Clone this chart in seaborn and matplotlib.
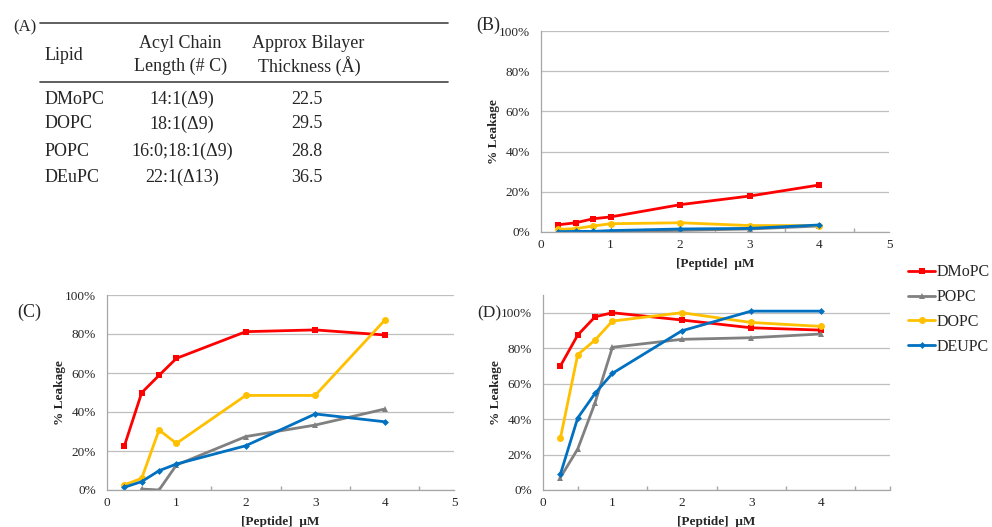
import numpy as np
import pandas as pd
import matplotlib
matplotlib.use("Agg")
import matplotlib.pyplot as plt
import seaborn as sns
from matplotlib.ticker import FuncFormatter, MultipleLocator

# ---------------- data ----------------
conc = [0.25, 0.5, 0.75, 1, 2, 3, 4]
lipids = ["DMoPC", "POPC", "DOPC", "DEUPC"]

# Panel B
b_dmopc = [3.6, 4.6, 6.6, 7.5, 13.6, 17.9, 23.4]
b_popc = [None, 0.0, 0.0, 0.2, 0.8, 1.5, 3.0]
b_dopc = [1.3, 1.7, 3.0, 4.1, 4.6, 3.2, 3.2]
b_deupc = [0.2, 0.3, 0.3, 0.7, 1.5, 1.8, 3.5]

# Panel C
c_dmopc = [22.6, 49.9, 58.8, 67.5, 81.2, 82.1, 79.5]
c_popc = [None, 0.5, 0.0, 12.8, 27.4, 33.3, 41.5]
c_dopc = [2.6, 6.0, 30.8, 23.9, 48.5, 48.5, 87.0]
c_deupc = [1.4, 4.3, 9.9, 13.3, 22.7, 39.0, 35.0]

# Panel D
d_dmopc = [69.9, 87.4, 97.7, 100.0, 95.9, 91.5, 90.2]
d_popc = [7.0, 23.1, 49.2, 80.5, 85.0, 85.9, 88.0]
d_dopc = [29.1, 76.3, 84.6, 95.3, 100.0, 94.5, 92.3]
d_deupc = [8.8, 40.6, 54.5, 65.8, 89.8, 100.9, 100.9]

# Table (A)
tbl_lipid = ["DMoPC", "DOPC", "POPC", "DEuPC"]
tbl_chain = ["14:1(\u03949)", "18:1(\u03949)", "16:0;18:1(\u03949)", "22:1(\u039413)"]
tbl_thick = ["22.5", "29.5", "28.8", "36.5"]

colors = {"DMoPC": "#FF0000", "POPC": "#808080", "DOPC": "#FFC000", "DEUPC": "#0070C0"}
markers = {"DMoPC": "s", "POPC": "^", "DOPC": "o", "DEUPC": "D"}
msizes = {"DMoPC": 5, "POPC": 5, "DOPC": 5, "DEUPC": 3.5}


def build(dm, po, do, de):
    rows = []
    for name, vals in zip(lipids, [dm, po, do, de]):
        for x, v in zip(conc, vals):
            if v is not None:
                rows.append({"conc": x, "leak": v, "lipid": name})
    return pd.DataFrame(rows)


dfB = build(b_dmopc, b_popc, b_dopc, b_deupc)
dfC = build(c_dmopc, c_popc, c_dopc, c_deupc)
dfD = build(d_dmopc, d_popc, d_dopc, d_deupc)

# ---------------- figure ----------------
sns.set_theme(style="white")
plt.rcParams["font.family"] = ["Liberation Serif", "DejaVu Serif"]

W, H = 992, 527
fig = plt.figure(figsize=(W / 100, H / 100), dpi=100)


def rect(l, t, r, b):
    return [l / W, 1 - b / H, (r - l) / W, (b - t) / H]


def draw(ax, df, ymax, xticks):
    for name in lipids:
        sub = df[df["lipid"] == name]
        sns.lineplot(data=sub, x="conc", y="leak", ax=ax, color=colors[name],
                     marker=markers[name], markersize=msizes[name],
                     markeredgewidth=0, linewidth=2, legend=False,
                     label=name, errorbar=None)
    ax.set_xlim(0, 5)
    ax.set_ylim(0, ymax)
    ax.set_xticks(xticks)
    ax.xaxis.set_minor_locator(MultipleLocator(0.5))
    ax.set_yticks([0, 20, 40, 60, 80, 100])
    ax.yaxis.set_major_formatter(FuncFormatter(lambda v, p: f"{v:.0f}%"))
    ax.grid(axis="y", color="#BFBFBF", linewidth=0.9)
    ax.grid(axis="x", visible=False)
    ax.set_axisbelow(True)
    for s in ["top", "right"]:
        ax.spines[s].set_visible(False)
    for s in ["left", "bottom"]:
        ax.spines[s].set_color("#A6A6A6")
        ax.spines[s].set_linewidth(0.9)
    ax.tick_params(axis="x", which="major", direction="out", length=3,
                   color="#A6A6A6", labelsize=9.5, pad=2)
    ax.tick_params(axis="x", which="minor", direction="in", length=3,
                   color="#A6A6A6", bottom=True)
    ax.tick_params(axis="y", which="major", length=0, labelsize=9.5, pad=8)
    ax.set_ylabel("% Leakage", fontsize=9.5, fontweight="bold", labelpad=-1)
    ax.set_xlabel("[Peptide]  \u03bcM", fontsize=9.5, fontweight="bold", labelpad=5)


axB = fig.add_axes(rect(541, 31, 889, 232))
draw(axB, dfB, 100, [0, 1, 2, 3, 4, 5])
axC = fig.add_axes(rect(107, 295, 454, 490))
draw(axC, dfC, 100, [0, 1, 2, 3, 4, 5])
axD = fig.add_axes(rect(543, 295, 890, 490))
draw(axD, dfD, 110, [0, 1, 2, 3, 4])

# panel letters
fig.text(476 / W, 1 - 25 / H, "(B)", fontsize=13, va="center", ha="left")
fig.text(17 / W, 1 - 312 / H, "(C)", fontsize=13, va="center", ha="left")
fig.text(477 / W, 1 - 313 / H, "(D)", fontsize=12.5, va="center", ha="left")
fig.text(13 / W, 1 - 27 / H, "(A)", fontsize=12, va="center", ha="left")

# legend
handles, labels = axD.get_legend_handles_labels()
fig.legend(handles, labels, loc="upper left",
           bbox_to_anchor=(902 / W, 1 - 258 / H), frameon=False,
           fontsize=11.5, handlelength=1.65, handletextpad=0.1,
           labelspacing=0.55, borderaxespad=0)

# table (A)
fs = 13
fig.add_artist(plt.Line2D([40 / W, 448 / W], [1 - 23 / H, 1 - 23 / H],
                          color="#444444", linewidth=1.2))
fig.add_artist(plt.Line2D([40 / W, 448 / W], [1 - 82 / H, 1 - 82 / H],
                          color="#444444", linewidth=1.2))
fig.text(45 / W, 1 - 55 / H, "Lipid", fontsize=fs, va="center", ha="left")
fig.text(180 / W, 1 - 43 / H, "Acyl Chain", fontsize=fs, va="center", ha="center")
fig.text(181 / W, 1 - 66 / H, "Length (# C)", fontsize=fs, va="center", ha="center")
fig.text(308 / W, 1 - 43 / H, "Approx Bilayer", fontsize=fs, va="center", ha="center")
fig.text(309 / W, 1 - 66 / H, "Thickness (\u00c5)", fontsize=fs, va="center", ha="center")
row_y = [99, 124, 151, 177]
for y, a, b, c in zip(row_y, tbl_lipid, tbl_chain, tbl_thick):
    fig.text(45 / W, 1 - y / H, a, fontsize=fs, va="center", ha="left")
    fig.text(182 / W, 1 - y / H, b, fontsize=fs, va="center", ha="center")
    fig.text(307 / W, 1 - y / H, c, fontsize=fs, va="center", ha="center")

fig.savefig("out.png", dpi=100)
